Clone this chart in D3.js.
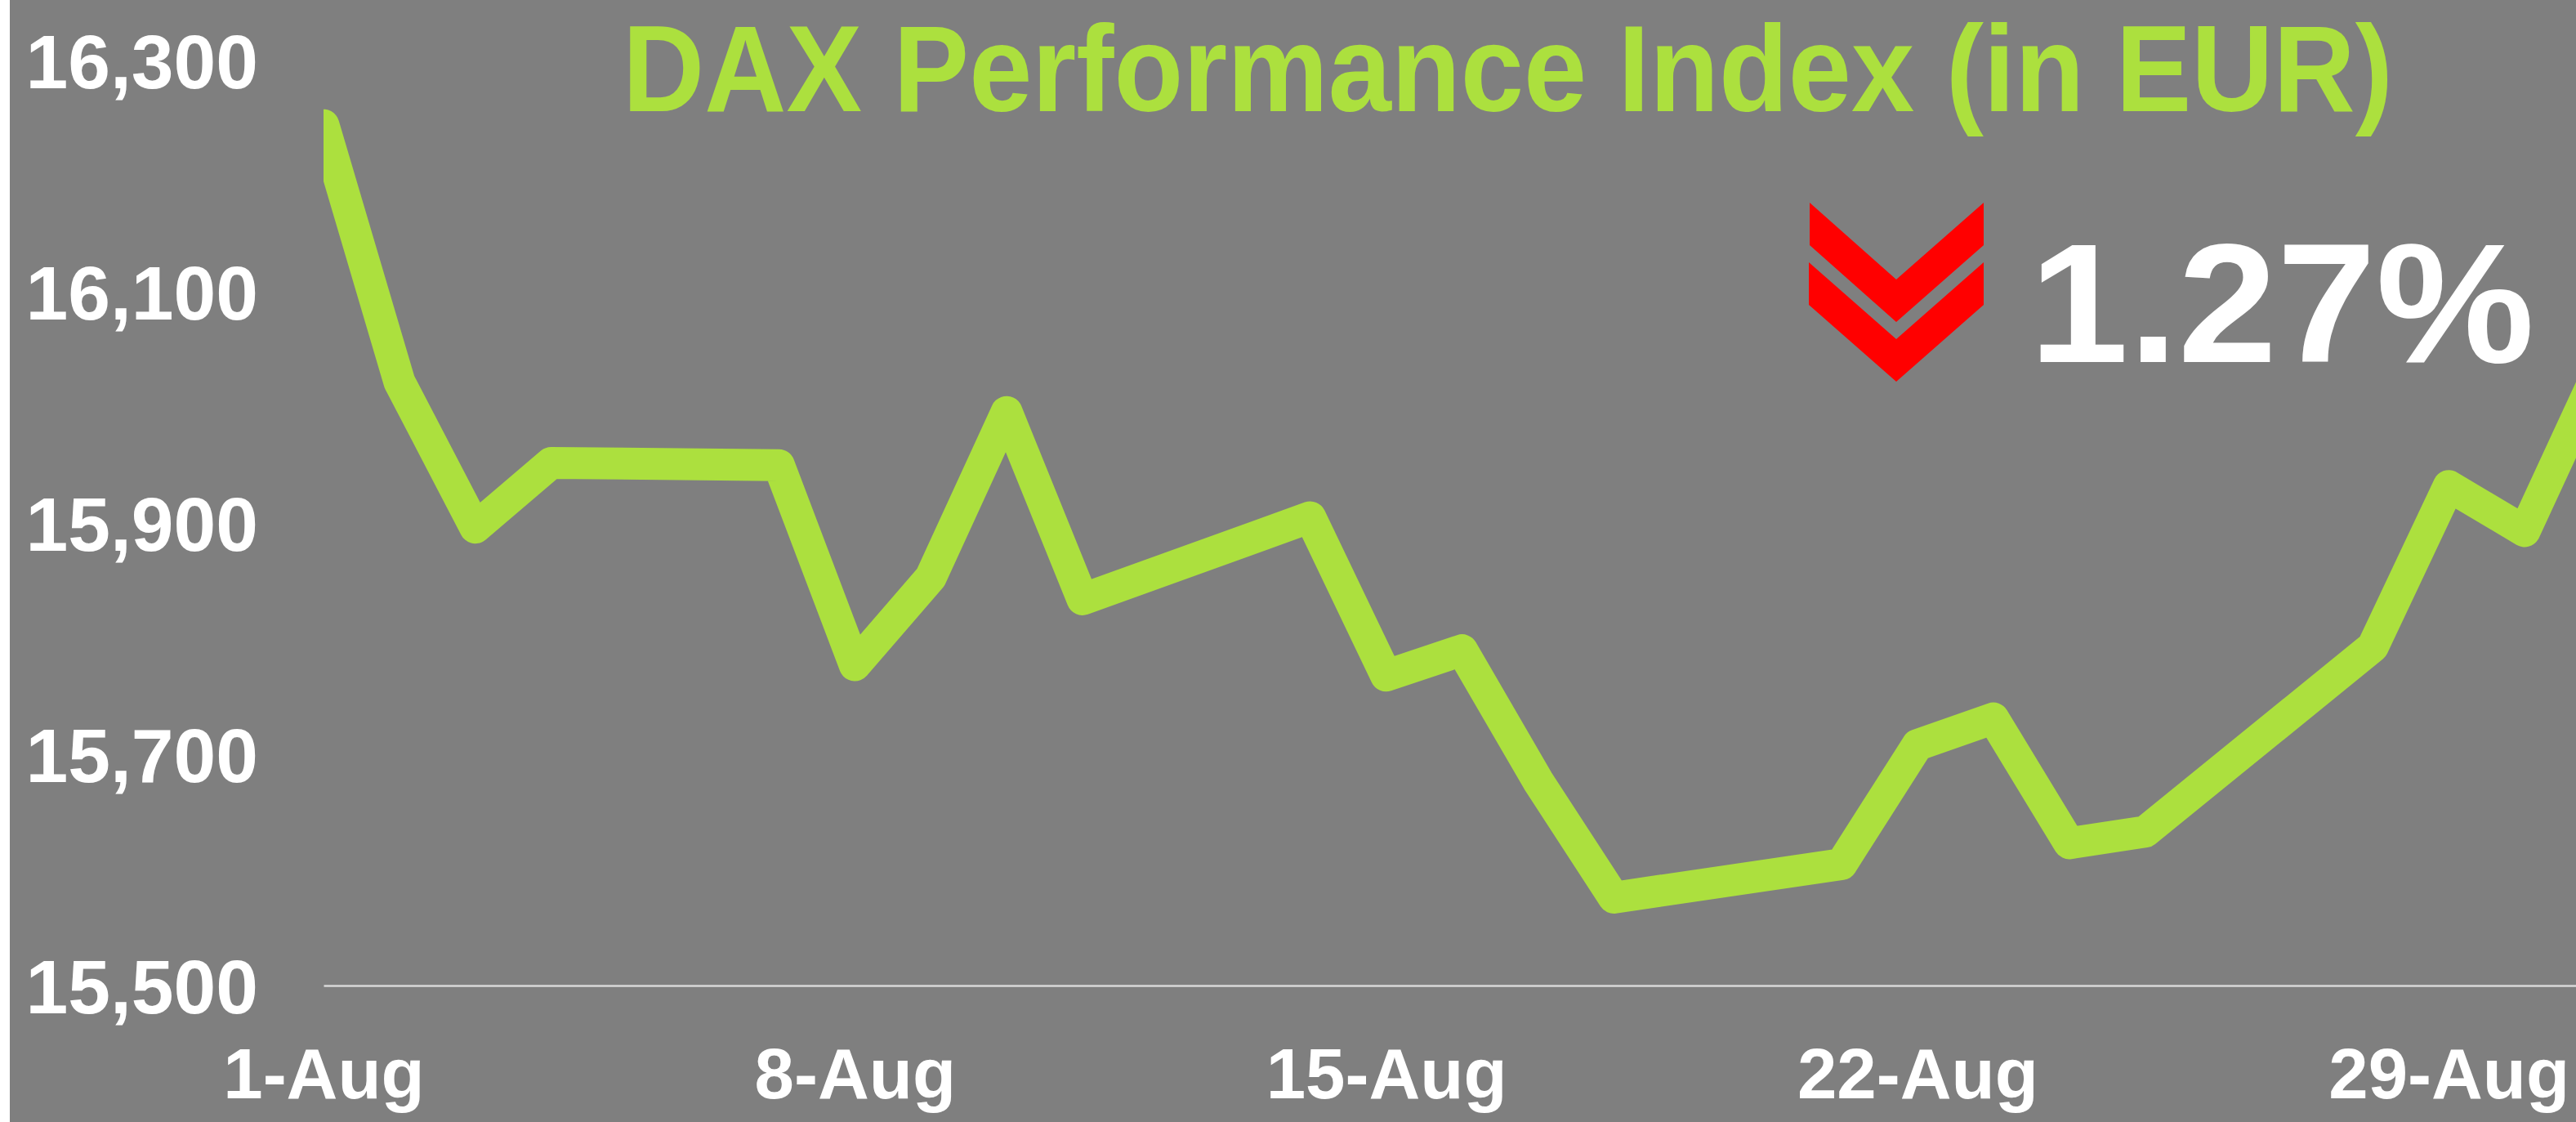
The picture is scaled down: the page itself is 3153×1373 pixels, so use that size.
<!DOCTYPE html>
<html>
<head>
<meta charset="utf-8">
<script src="https://cdn.jsdelivr.net/npm/d3@7/dist/d3.min.js"></script>
<style>
  html, body { margin: 0; padding: 0; background: #7f7f7f; overflow: hidden; }
  svg { display: block; }
</style>
</head>
<body>
<div id="chart"></div>
<script>
'use strict';

var days = ['2023-08-01', '2023-08-02', '2023-08-03', '2023-08-04', '2023-08-07',
    '2023-08-08', '2023-08-09', '2023-08-10', '2023-08-11', '2023-08-14',
    '2023-08-15', '2023-08-16', '2023-08-17', '2023-08-18', '2023-08-21',
    '2023-08-22', '2023-08-23', '2023-08-24', '2023-08-25', '2023-08-28',
    '2023-08-29', '2023-08-30', '2023-08-31'];
var closes = [16244, 16022, 15896, 15952, 15950,
    15777, 15853, 15996, 15834, 15905,
    15768, 15790, 15677, 15576, 15605,
    15708, 15731, 15623, 15633, 15793,
    15932, 15893, 16035];
var yTicks = [15500, 15700, 15900, 16100, 16300];
var xTicks = ['2023-08-01', '2023-08-08', '2023-08-15', '2023-08-22', '2023-08-29'];
var title = 'DAX Performance Index (in EUR)';
var change = '1.27%';

var width = 3153;
var height = 1373;
var green = '#ace03e';
var font = '"Liberation Sans", Arial, sans-serif';

var parse = d3.utcParse('%Y-%m-%d');
var data = days.map(function (d, i) {
    return { date: parse(d), value: closes[i] };
});

var x = d3.scaleUtc()
    .domain([parse('2023-08-01'), parse('2023-08-31')])
    .range([396, 3183]);

var y = d3.scaleLinear()
    .domain([15500, 16300])
    .range([1206, 74]);

var svg = d3.select('#chart')
    .append('svg')
        .attr('width', width)
        .attr('height', height)
        .attr('viewBox', '0 0 ' + width + ' ' + height);

svg.append('rect')
    .attr('width', width)
    .attr('height', height)
    .attr('fill', '#7f7f7f');

svg.append('rect')
    .attr('width', 12)
    .attr('height', height)
    .attr('fill', '#ffffff');

svg.append('clipPath')
    .attr('id', 'plot-clip')
    .append('rect')
        .attr('x', 396)
        .attr('y', 0)
        .attr('width', width - 396)
        .attr('height', height);

// y axis, labels only
var yAxis = svg.append('g')
    .attr('transform', 'translate(316,0)')
    .call(d3.axisLeft(y)
        .tickValues(yTicks)
        .tickFormat(d3.format(','))
        .tickSize(0)
        .tickPadding(0));
yAxis.select('.domain').remove();
yAxis.selectAll('text')
    .attr('fill', '#ffffff')
    .style('font-family', font)
    .style('font-weight', 'bold')
    .style('font-size', '93px')
    .attr('dy', '0.36em');

// x axis with baseline
var xAxis = svg.append('g')
    .attr('transform', 'translate(0,' + y(15500) + ')')
    .call(d3.axisBottom(x)
        .tickValues(xTicks.map(parse))
        .tickFormat(d3.utcFormat('%-d-%b'))
        .tickSize(0)
        .tickSizeOuter(0));
xAxis.select('.domain')
    .attr('stroke', '#d9d9d9')
    .attr('stroke-width', 2.5);
xAxis.selectAll('text')
    .attr('fill', '#ffffff')
    .attr('y', 138)
    .attr('dy', null)
    .style('font-family', font)
    .style('font-weight', 'bold')
    .style('font-size', '87px');

var line = d3.line()
    .x(d => x(d.date))
    .y(d => y(d.value));

svg.append('path')
    .datum(data)
    .attr('clip-path', 'url(#plot-clip)')
    .attr('fill', 'none')
    .attr('stroke', green)
    .attr('stroke-width', 39)
    .attr('stroke-linejoin', 'round')
    .attr('stroke-linecap', 'round')
    .attr('d', line);

svg.append('text')
    .attr('x', 762)
    .attr('y', 136)
    .attr('textLength', 2167)
    .attr('lengthAdjust', 'spacingAndGlyphs')
    .attr('fill', green)
    .style('font-family', font)
    .style('font-weight', 'bold')
    .style('font-size', '150px')
    .text(title);

// red double chevron
var chevrons = [
    [[2215, 248], [2321, 342], [2428, 248], [2428, 300], [2321, 394], [2215, 300]],
    [[2214, 321], [2321, 415], [2428, 321], [2428, 373], [2321, 467], [2214, 373]]
];
svg.selectAll('polygon.chev')
    .data(chevrons)
    .enter()
    .append('polygon')
    .attr('class', 'chev')
    .attr('points', d => d.map(p => p.join(',')).join(' '))
    .attr('fill', '#ff0000');

svg.append('text')
    .attr('x', 2484)
    .attr('y', 443)
    .attr('textLength', 618)
    .attr('lengthAdjust', 'spacingAndGlyphs')
    .attr('fill', '#ffffff')
    .style('font-family', font)
    .style('font-weight', 'bold')
    .style('font-size', '208px')
    .text(change);
</script>
</body>
</html>
